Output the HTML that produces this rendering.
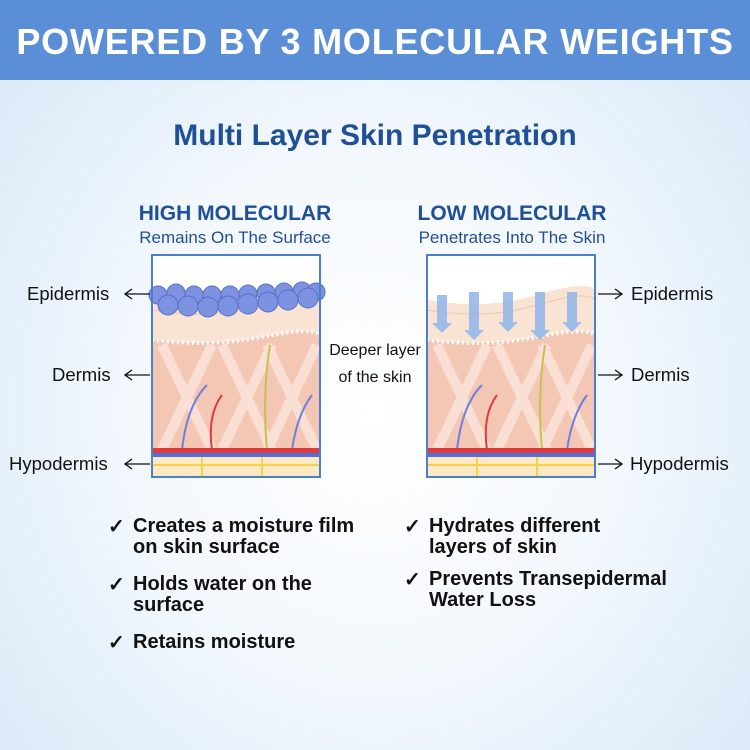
<!DOCTYPE html>
<html><head><style>
body{margin:0;width:750px;height:750px;overflow:hidden;font-family:"Liberation Sans",sans-serif;
background:radial-gradient(ellipse at 50% 55%,#ffffff 0%,#f3f8fd 45%,#d6e7f7 100%);position:relative}
.hdr{position:absolute;left:0;top:0;width:750px;height:80px;background:#5a8ed6;color:#fff;font-weight:bold;font-size:36px;text-align:center;line-height:84px;letter-spacing:0.8px}
.t{position:absolute;color:#1f4f96;text-align:center}
.l{position:absolute;font-size:18.5px;color:#111}
.b{position:absolute;font-size:20px;color:#111;font-weight:bold;line-height:21px}
</style></head><body>
<div class="hdr">POWERED BY 3 MOLECULAR WEIGHTS</div>
<div class="t" style="left:0;width:750px;top:119px;font-size:30px;font-weight:bold">Multi Layer Skin Penetration</div>
<div class="t" style="left:100px;width:270px;top:202px;font-size:21px;font-weight:bold">HIGH MOLECULAR</div>
<div class="t" style="left:90px;width:290px;top:228px;font-size:17px">Remains On The Surface</div>
<div class="t" style="left:377px;width:270px;top:202px;font-size:21px;font-weight:bold">LOW MOLECULAR</div>
<div class="t" style="left:367px;width:290px;top:228px;font-size:17px">Penetrates Into The Skin</div>
<div class="l" style="left:318px;top:337px;width:114px;text-align:center;font-size:16px;line-height:27px">Deeper layer<br>of the skin</div>
<svg width="750" height="750" style="position:absolute;left:0;top:0">
<defs>
<g id="skin">
<rect x="0" y="0" width="168" height="222" fill="#fff"/>
<path d="M0 45 Q60 55 110 40 T168 35 V90 H0Z" fill="#f9e3d3"/>
<path d="M0 55 Q60 65 110 50 T168 45" stroke="#e8c9b3" fill="none"/>
<path d="M0 85 Q60 92 110 82 T168 80 V200 H0Z" fill="#f3c7b4"/>
<path d="M0 85 Q60 92 110 82 T168 80" stroke="#fff" stroke-width="4" stroke-dasharray="2 3" fill="none"/>
<g stroke="#fbe5dc" stroke-width="10" opacity="0.8">
<line x1="10" y1="90" x2="60" y2="195"/><line x1="60" y1="90" x2="10" y2="195"/>
<line x1="70" y1="90" x2="120" y2="195"/><line x1="120" y1="90" x2="70" y2="195"/>
<line x1="115" y1="90" x2="165" y2="195"/><line x1="165" y1="90" x2="115" y2="195"/>
</g>
<path d="M30 195 Q35 150 55 130" stroke="#6d7fe0" stroke-width="2" fill="none"/>
<path d="M60 195 Q55 160 70 140" stroke="#e03a3a" stroke-width="2" fill="none"/>
<path d="M115 195 Q110 140 118 90" stroke="#c8c050" stroke-width="2" fill="none"/>
<path d="M140 195 Q145 160 160 140" stroke="#6d7fe0" stroke-width="2" fill="none"/>
<rect x="0" y="193" width="168" height="5" fill="#e23a3a"/>
<rect x="0" y="198" width="168" height="4" fill="#5470d8"/>
<rect x="0" y="202" width="168" height="20" fill="#fbe9c4"/>
<path d="M0 210 H168 M50 202 V222 M110 202 V222" stroke="#f5cf50" stroke-width="2"/>
</g>
</defs>
<g transform="translate(152,255)"><use href="#skin"/>
<g fill="#7d92e0" stroke="#5a6fc8">
<circle cx="6" cy="40" r="9"/><circle cx="24" cy="38" r="9"/><circle cx="42" cy="40" r="9"/><circle cx="60" cy="40" r="9"/><circle cx="78" cy="40" r="9"/><circle cx="96" cy="39" r="9"/><circle cx="114" cy="38" r="9"/><circle cx="132" cy="37" r="9"/><circle cx="150" cy="36" r="9"/><circle cx="164" cy="37" r="9"/>
<circle cx="16" cy="50" r="10"/><circle cx="36" cy="51" r="10"/><circle cx="56" cy="52" r="10"/><circle cx="76" cy="51" r="10"/><circle cx="96" cy="49" r="10"/><circle cx="116" cy="47" r="10"/><circle cx="136" cy="45" r="10"/><circle cx="156" cy="43" r="10"/>
</g>
<rect x="0" y="0" width="168" height="222" fill="none" stroke="#4a7ed0" stroke-width="2"/></g>
<g transform="translate(427,255)"><use href="#skin"/>
<g fill="#8fb6ea" opacity="0.85">
<path d="M10 40 h10 v28 h5 l-10 10 l-10 -10 h5z"/><path d="M42 37 h10 v38 h5 l-10 10 l-10 -10 h5z"/><path d="M76 37 h10 v30 h5 l-10 10 l-10 -10 h5z"/><path d="M108 37 h10 v38 h5 l-10 10 l-10 -10 h5z"/><path d="M140 37 h10 v30 h5 l-10 10 l-10 -10 h5z"/>
</g>
<rect x="0" y="0" width="168" height="222" fill="none" stroke="#4a7ed0" stroke-width="2"/></g>
<g stroke="#111" stroke-width="1.3" fill="none">
<path d="M125 294 H150 M132 289 L125 294 L132 299"/>
<path d="M125 375 H150 M132 370 L125 375 L132 380"/>
<path d="M125 464 H150 M132 459 L125 464 L132 469"/>
<path d="M598 294 H622 M615 289 L622 294 L615 299"/>
<path d="M598 375 H622 M615 370 L622 375 L615 380"/>
<path d="M598 464 H622 M615 459 L622 464 L615 469"/>
</g>
</svg>
<div class="l" style="left:27px;top:283px">Epidermis</div>
<div class="l" style="left:52px;top:364px">Dermis</div>
<div class="l" style="left:9px;top:453px">Hypodermis</div>
<div class="l" style="left:631px;top:283px">Epidermis</div>
<div class="l" style="left:631px;top:364px">Dermis</div>
<div class="l" style="left:630px;top:453px">Hypodermis</div>
<div class="b" style="left:108px;top:517px">✓</div><div class="b" style="left:133px;top:516px">Creates a moisture film<br>on skin surface</div>
<div class="b" style="left:108px;top:575px">✓</div><div class="b" style="left:133px;top:574px">Holds water on the<br>surface</div>
<div class="b" style="left:108px;top:633px">✓</div><div class="b" style="left:133px;top:632px">Retains moisture</div>
<div class="b" style="left:404px;top:517px">✓</div><div class="b" style="left:429px;top:516px">Hydrates different<br>layers of skin</div>
<div class="b" style="left:404px;top:570px">✓</div><div class="b" style="left:429px;top:569px">Prevents Transepidermal<br>Water Loss</div>
</body></html>
